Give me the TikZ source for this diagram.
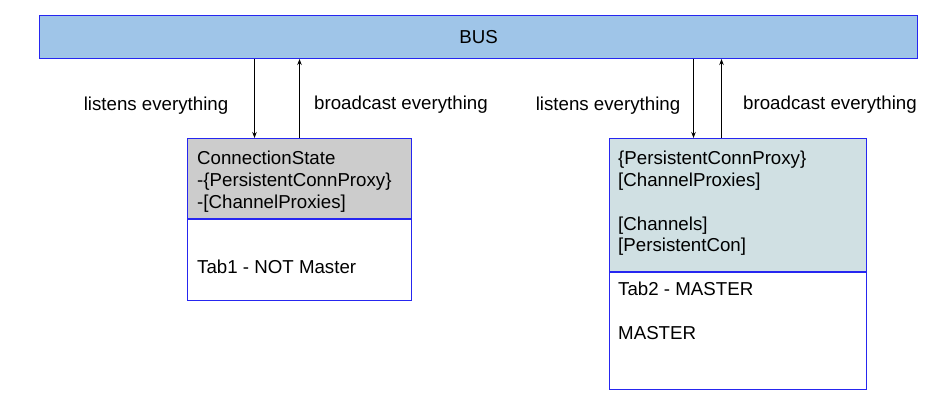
\documentclass[tikz,border=0pt]{standalone}
\usepackage{fontspec}
\setmainfont{Liberation Sans}
\usetikzlibrary{arrows.meta,positioning}
\definecolor{busblue}{HTML}{9FC5E8}
\definecolor{edgeblue}{HTML}{2626F0}
\definecolor{stategray}{HTML}{CCCCCC}
\definecolor{mastercyan}{HTML}{D0E0E3}
\begin{document}
\begin{tikzpicture}[x=1pt,y=-1pt,font=\fontsize{18.7}{21.8}\selectfont,
        box/.style={draw=edgeblue,line width=1pt,anchor=north west,inner sep=0pt},
        txt/.style={inner sep=0pt,align=left,anchor=north west},
        flow/.style={-{Stealth[length=6pt,width=4.5pt]},line width=0.8pt}]
    \useasboundingbox (0,0) rectangle (933,411);
    \node[box,fill=busblue,minimum width=878pt,minimum height=43pt] (bus) at (39,15) {BUS};

    \node[box,fill=stategray,minimum width=224pt,minimum height=80pt] (tab1state) at (187,138) {};
    \node[box,minimum width=224pt,minimum height=81pt] (tab1info) at (tab1state.south west) {};
    \node[txt] (tab1text) at (197,151) {ConnectionState\\-\{PersistentConnProxy\}\\-{[}ChannelProxies{]}};
    \node[inner sep=0pt,anchor=base west] (tab1name) at (197,274) {Tab1 - NOT Master};

    \node[box,fill=mastercyan,minimum width=257pt,minimum height=133pt] (tab2state) at (609,138) {};
    \node[box,minimum width=257pt,minimum height=117pt] (tab2info) at (tab2state.south west) {};
    \node[txt] (tab2text) at (618,151) {\{PersistentConnProxy\}\\{[}ChannelProxies{]}\\ \\{[}Channels{]}\\{[}PersistentCon{]}};
    \node[txt] (tab2name) at (618,282) {Tab2 - MASTER\\ \\MASTER};

    \coordinate (tab1in) at ([xshift=-45pt]tab1state.north);
    \coordinate (tab1out) at (tab1state.north);
    \coordinate (tab2in) at ([xshift=-44.5pt]tab2state.north);
    \coordinate (tab2out) at ([xshift=-16.5pt]tab2state.north);
    \draw[flow] (bus.south -| tab1in) -- (tab1in);
    \draw[flow] (tab1out) -- (bus.south -| tab1out);
    \draw[flow] (bus.south -| tab2in) -- (tab2in);
    \draw[flow] (tab2out) -- (bus.south -| tab2out);

    \node[inner sep=0pt,anchor=base] (listen1) at (156,111) {listens everything};
    \node[inner sep=0pt,anchor=base] (cast1) at (401,110) {broadcast everything};
    \node[inner sep=0pt,anchor=base] (listen2) at (608,111) {listens everything};
    \node[inner sep=0pt,anchor=base] (cast2) at (830,110) {broadcast everything};
\end{tikzpicture}
\end{document}
